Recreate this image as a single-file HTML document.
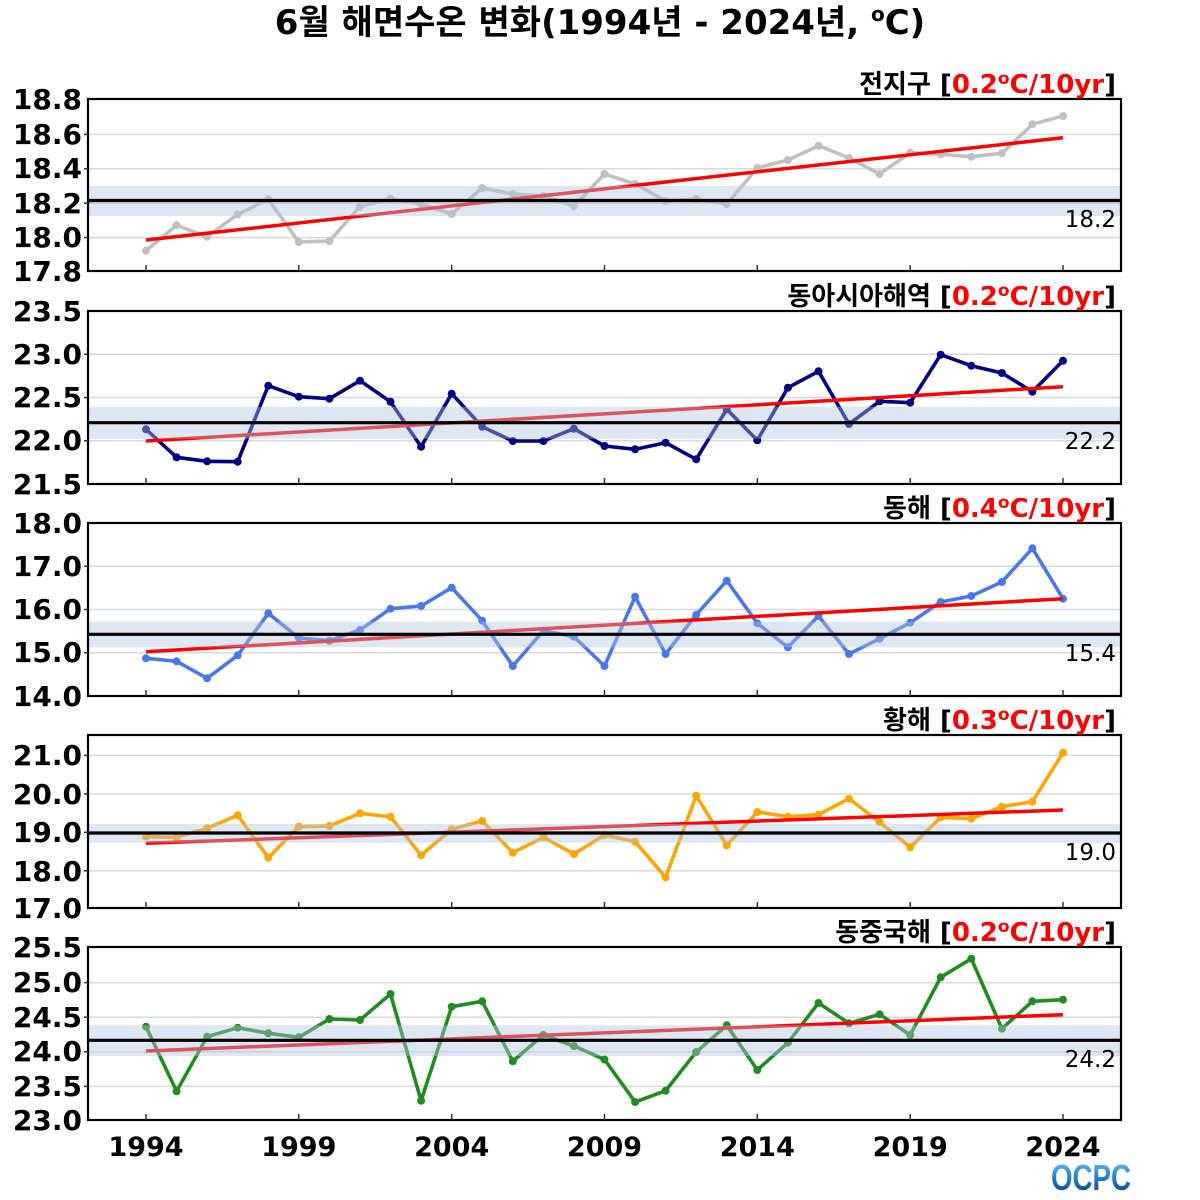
<!DOCTYPE html>
<html>
<head>
<meta charset="utf-8">
<style>
  html, body { margin:0; padding:0; background:#fff; }
  svg { display:block; }
  .yl { font-family:"DejaVu Sans","Liberation Sans",sans-serif; font-weight:bold; font-size:28px; fill:#000; }
  .xl { font-family:"DejaVu Sans","Liberation Sans",sans-serif; font-weight:bold; font-size:27px; fill:#000; }
  .pt { font-family:"DejaVu Sans","Liberation Sans","Noto Sans CJK KR",sans-serif; font-weight:bold; font-size:26px; fill:#000; }
  .ml { font-family:"DejaVu Sans","Liberation Sans",sans-serif; font-size:23px; fill:#000; }
  .ti { font-family:"DejaVu Sans","Liberation Sans","Noto Sans CJK KR",sans-serif; font-weight:bold; font-size:34px; fill:#000; }
  .grid { stroke:#d9d9d9; stroke-width:1.5; }
  .band { fill:rgba(176,196,222,0.42); }
  .mean { stroke:#000; stroke-width:3.2; }
  .trend { stroke:#ff0000; stroke-width:3.5; fill:none; }
  .frame { fill:none; stroke:#000; stroke-width:2.2; }
  .tk { stroke:#333; stroke-width:1.5; }
  .ser { fill:none; stroke-width:3.6; stroke-linejoin:round; }
</style>
</head>
<body>
<svg width="1200" height="1200" viewBox="0 0 1200 1200" xmlns="http://www.w3.org/2000/svg">
  <defs>
    <marker id="m1" viewBox="-5 -5 10 10" markerWidth="10" markerHeight="10" refX="0" refY="0" markerUnits="userSpaceOnUse"><circle r="4" fill="#c0c0c0"/></marker>
    <marker id="m2" viewBox="-5 -5 10 10" markerWidth="10" markerHeight="10" refX="0" refY="0" markerUnits="userSpaceOnUse"><circle r="4" fill="#000080"/></marker>
    <marker id="m3" viewBox="-5 -5 10 10" markerWidth="10" markerHeight="10" refX="0" refY="0" markerUnits="userSpaceOnUse"><circle r="4" fill="#4a78ea"/></marker>
    <marker id="m4" viewBox="-5 -5 10 10" markerWidth="10" markerHeight="10" refX="0" refY="0" markerUnits="userSpaceOnUse"><circle r="4" fill="#ffa500"/></marker>
    <marker id="m5" viewBox="-5 -5 10 10" markerWidth="10" markerHeight="10" refX="0" refY="0" markerUnits="userSpaceOnUse"><circle r="4" fill="#228b22"/></marker>
    <linearGradient id="lg" x1="0" y1="0" x2="0" y2="1">
      <stop offset="0" stop-color="#7fcdf2"/>
      <stop offset="0.45" stop-color="#2a86d0"/>
      <stop offset="1" stop-color="#08357f"/>
    </linearGradient>
  </defs>

  <rect x="0" y="0" width="1200" height="1200" fill="#fff"/>

  <!-- Title -->
  <text class="ti" x="600" y="34" text-anchor="middle">6월 해면수온 변화(1994년 - 2024년, <tspan font-size="20" dy="-13">o</tspan><tspan dy="13">C)</tspan></text>

  <!-- ================= Panel 1 ================= -->
  <g>
    <line class="grid" x1="88" x2="1121" y1="134.4" y2="134.4"/>
    <line class="grid" x1="88" x2="1121" y1="168.8" y2="168.8"/>
    <line class="grid" x1="88" x2="1121" y1="203.2" y2="203.2"/>
    <line class="grid" x1="88" x2="1121" y1="237.6" y2="237.6"/>
    <polyline class="ser" stroke="#c0c0c0" marker-start="url(#m1)" marker-mid="url(#m1)" marker-end="url(#m1)"
      points="146,250.7 176.6,225.3 207.1,236.7 237.7,214.3 268.3,199.3 298.8,242 329.4,241 360,206.7 390.5,198.7 421.1,204 451.7,214 482.2,188 512.8,194 543.4,196 573.9,206 604.5,174 635.1,184 665.6,201 696.2,199 726.8,204 757.3,168 787.9,160 818.5,145.7 849,158 879.6,174 910.2,152.7 940.7,154.3 971.3,156.7 1001.9,153.3 1032.4,124.3 1063,116"/>
    <line class="trend" x1="146" y1="240" x2="1063" y2="137.7"/>
    <rect class="band" x="89" y="186" width="1031" height="30"/>
    <line class="mean" x1="88" x2="1121" y1="200.5" y2="200.5"/>
    <rect class="frame" x="88" y="99" width="1033" height="172"/>
    <g class="tk">
      <line x1="146" x2="146" y1="265" y2="271"/><line x1="298.8" x2="298.8" y1="265" y2="271"/>
      <line x1="451.7" x2="451.7" y1="265" y2="271"/><line x1="604.5" x2="604.5" y1="265" y2="271"/>
      <line x1="757.3" x2="757.3" y1="265" y2="271"/><line x1="910.2" x2="910.2" y1="265" y2="271"/>
      <line x1="1063" x2="1063" y1="265" y2="271"/>
      <line x1="84" x2="88" y1="134.4" y2="134.4"/><line x1="84" x2="88" y1="168.8" y2="168.8"/>
      <line x1="84" x2="88" y1="203.2" y2="203.2"/><line x1="84" x2="88" y1="237.6" y2="237.6"/>
    </g>
    <text class="yl" x="82" y="109" text-anchor="end">18.8</text>
    <text class="yl" x="82" y="144" text-anchor="end">18.6</text>
    <text class="yl" x="82" y="178" text-anchor="end">18.4</text>
    <text class="yl" x="82" y="213" text-anchor="end">18.2</text>
    <text class="yl" x="82" y="247" text-anchor="end">18.0</text>
    <text class="yl" x="82" y="281" text-anchor="end">17.8</text>
    <text class="pt" x="1116" y="93" text-anchor="end">전지구 [<tspan fill="#ff0000">0.2<tspan font-size="17" dy="-9">o</tspan><tspan dy="9">C/10yr</tspan></tspan>]</text>
    <text class="ml" x="1116" y="227" text-anchor="end">18.2</text>
  </g>

  <!-- ================= Panel 2 ================= -->
  <g>
    <line class="grid" x1="88" x2="1121" y1="354.25" y2="354.25"/>
    <line class="grid" x1="88" x2="1121" y1="397.5" y2="397.5"/>
    <line class="grid" x1="88" x2="1121" y1="440.75" y2="440.75"/>
    <polyline class="ser" stroke="#000080" marker-start="url(#m2)" marker-mid="url(#m2)" marker-end="url(#m2)"
      points="146,429.3 176.6,457.3 207.1,461.3 237.7,461.7 268.3,385.7 298.8,396.7 329.4,398.7 360,380.7 390.5,401.7 421.1,446.7 451.7,393.7 482.2,426.7 512.8,441 543.4,441 573.9,428.7 604.5,446 635.1,449.3 665.6,442.7 696.2,459.3 726.8,409.3 757.3,440.3 787.9,387.7 818.5,371.3 849,424 879.6,401.3 910.2,402.7 940.7,354.7 971.3,365.7 1001.9,373 1032.4,391.7 1063,360.7"/>
    <line class="trend" x1="146" y1="441" x2="1063" y2="386.7"/>
    <rect class="band" x="89" y="406.7" width="1031" height="32"/>
    <line class="mean" x1="88" x2="1121" y1="422.7" y2="422.7"/>
    <rect class="frame" x="88" y="311" width="1033" height="173"/>
    <g class="tk">
      <line x1="146" x2="146" y1="478" y2="484"/><line x1="298.8" x2="298.8" y1="478" y2="484"/>
      <line x1="451.7" x2="451.7" y1="478" y2="484"/><line x1="604.5" x2="604.5" y1="478" y2="484"/>
      <line x1="757.3" x2="757.3" y1="478" y2="484"/><line x1="910.2" x2="910.2" y1="478" y2="484"/>
      <line x1="1063" x2="1063" y1="478" y2="484"/>
      <line x1="84" x2="88" y1="354.25" y2="354.25"/><line x1="84" x2="88" y1="397.5" y2="397.5"/>
      <line x1="84" x2="88" y1="440.75" y2="440.75"/>
    </g>
    <text class="yl" x="82" y="321" text-anchor="end">23.5</text>
    <text class="yl" x="82" y="364" text-anchor="end">23.0</text>
    <text class="yl" x="82" y="407" text-anchor="end">22.5</text>
    <text class="yl" x="82" y="450" text-anchor="end">22.0</text>
    <text class="yl" x="82" y="494" text-anchor="end">21.5</text>
    <text class="pt" x="1116" y="305" text-anchor="end">동아시아해역 [<tspan fill="#ff0000">0.2<tspan font-size="17" dy="-9">o</tspan><tspan dy="9">C/10yr</tspan></tspan>]</text>
    <text class="ml" x="1116" y="449" text-anchor="end">22.2</text>
  </g>

  <!-- ================= Panel 3 ================= -->
  <g>
    <line class="grid" x1="88" x2="1121" y1="566.25" y2="566.25"/>
    <line class="grid" x1="88" x2="1121" y1="609.5" y2="609.5"/>
    <line class="grid" x1="88" x2="1121" y1="652.75" y2="652.75"/>
    <polyline class="ser" stroke="#4a78ea" marker-start="url(#m3)" marker-mid="url(#m3)" marker-end="url(#m3)"
      points="146,658.3 176.6,661.3 207.1,678.3 237.7,655.3 268.3,613.3 298.8,638 329.4,640.7 360,630 390.5,608.7 421.1,606 451.7,587.7 482.2,620.7 512.8,666 543.4,630.7 573.9,636.7 604.5,666 635.1,596.7 665.6,654 696.2,614.7 726.8,580.7 757.3,623.3 787.9,647.3 818.5,616 849,654 879.6,638.7 910.2,622.7 940.7,602 971.3,596 1001.9,582 1032.4,548.3 1063,598.7"/>
    <line class="trend" x1="146" y1="651.7" x2="1063" y2="598.7"/>
    <rect class="band" x="89" y="621.7" width="1031" height="25.6"/>
    <line class="mean" x1="88" x2="1121" y1="634.3" y2="634.3"/>
    <rect class="frame" x="88" y="523" width="1033" height="173"/>
    <g class="tk">
      <line x1="146" x2="146" y1="690" y2="696"/><line x1="298.8" x2="298.8" y1="690" y2="696"/>
      <line x1="451.7" x2="451.7" y1="690" y2="696"/><line x1="604.5" x2="604.5" y1="690" y2="696"/>
      <line x1="757.3" x2="757.3" y1="690" y2="696"/><line x1="910.2" x2="910.2" y1="690" y2="696"/>
      <line x1="1063" x2="1063" y1="690" y2="696"/>
      <line x1="84" x2="88" y1="566.25" y2="566.25"/><line x1="84" x2="88" y1="609.5" y2="609.5"/>
      <line x1="84" x2="88" y1="652.75" y2="652.75"/>
    </g>
    <text class="yl" x="82" y="533" text-anchor="end">18.0</text>
    <text class="yl" x="82" y="576" text-anchor="end">17.0</text>
    <text class="yl" x="82" y="619" text-anchor="end">16.0</text>
    <text class="yl" x="82" y="662" text-anchor="end">15.0</text>
    <text class="yl" x="82" y="706" text-anchor="end">14.0</text>
    <text class="pt" x="1116" y="517" text-anchor="end">동해 [<tspan fill="#ff0000">0.4<tspan font-size="17" dy="-9">o</tspan><tspan dy="9">C/10yr</tspan></tspan>]</text>
    <text class="ml" x="1116" y="661" text-anchor="end">15.4</text>
  </g>

  <!-- ================= Panel 4 ================= -->
  <g>
    <line class="grid" x1="88" x2="1121" y1="755.4" y2="755.4"/>
    <line class="grid" x1="88" x2="1121" y1="793.9" y2="793.9"/>
    <line class="grid" x1="88" x2="1121" y1="832.3" y2="832.3"/>
    <line class="grid" x1="88" x2="1121" y1="870.8" y2="870.8"/>
    <polyline class="ser" stroke="#ffa500" marker-start="url(#m4)" marker-mid="url(#m4)" marker-end="url(#m4)"
      points="146,836.7 176.6,837.3 207.1,828.3 237.7,815.3 268.3,857.7 298.8,826.7 329.4,826 360,813.3 390.5,816.7 421.1,855.3 451.7,829.3 482.2,821 512.8,852.7 543.4,837.3 573.9,854 604.5,835 635.1,841.7 665.6,877.3 696.2,795.7 726.8,845.3 757.3,812 787.9,816.7 818.5,814.7 849,798.7 879.6,822 910.2,847.3 940.7,817.3 971.3,818.7 1001.9,806.7 1032.4,801.7 1063,752.7"/>
    <line class="trend" x1="146" y1="843.3" x2="1063" y2="810"/>
    <rect class="band" x="89" y="824" width="1031" height="18.7"/>
    <line class="mean" x1="88" x2="1121" y1="833" y2="833"/>
    <rect class="frame" x="88" y="735" width="1033" height="173"/>
    <g class="tk">
      <line x1="146" x2="146" y1="902" y2="908"/><line x1="298.8" x2="298.8" y1="902" y2="908"/>
      <line x1="451.7" x2="451.7" y1="902" y2="908"/><line x1="604.5" x2="604.5" y1="902" y2="908"/>
      <line x1="757.3" x2="757.3" y1="902" y2="908"/><line x1="910.2" x2="910.2" y1="902" y2="908"/>
      <line x1="1063" x2="1063" y1="902" y2="908"/>
      <line x1="84" x2="88" y1="755.4" y2="755.4"/><line x1="84" x2="88" y1="793.9" y2="793.9"/>
      <line x1="84" x2="88" y1="832.3" y2="832.3"/><line x1="84" x2="88" y1="870.8" y2="870.8"/>
    </g>
    <text class="yl" x="82" y="765" text-anchor="end">21.0</text>
    <text class="yl" x="82" y="804" text-anchor="end">20.0</text>
    <text class="yl" x="82" y="842" text-anchor="end">19.0</text>
    <text class="yl" x="82" y="881" text-anchor="end">18.0</text>
    <text class="yl" x="82" y="918" text-anchor="end">17.0</text>
    <text class="pt" x="1116" y="729" text-anchor="end">황해 [<tspan fill="#ff0000">0.3<tspan font-size="17" dy="-9">o</tspan><tspan dy="9">C/10yr</tspan></tspan>]</text>
    <text class="ml" x="1116" y="860" text-anchor="end">19.0</text>
  </g>

  <!-- ================= Panel 5 ================= -->
  <g>
    <line class="grid" x1="88" x2="1121" y1="982.6" y2="982.6"/>
    <line class="grid" x1="88" x2="1121" y1="1017.2" y2="1017.2"/>
    <line class="grid" x1="88" x2="1121" y1="1051.8" y2="1051.8"/>
    <line class="grid" x1="88" x2="1121" y1="1086.4" y2="1086.4"/>
    <polyline class="ser" stroke="#228b22" marker-start="url(#m5)" marker-mid="url(#m5)" marker-end="url(#m5)"
      points="146,1026.7 176.6,1091.3 207.1,1036.7 237.7,1027.7 268.3,1033.3 298.8,1037.3 329.4,1019 360,1020 390.5,994 421.1,1100.7 451.7,1006.7 482.2,1001.3 512.8,1061.3 543.4,1035 573.9,1046 604.5,1059.5 635.1,1102 665.6,1090.7 696.2,1052 726.8,1025.3 757.3,1070 787.9,1042.7 818.5,1003 849,1023.3 879.6,1014.3 910.2,1035 940.7,977.3 971.3,958.7 1001.9,1028.7 1032.4,1001.3 1063,999.7"/>
    <line class="trend" x1="146" y1="1051" x2="1063" y2="1014.7"/>
    <rect class="band" x="89" y="1025.3" width="1031" height="30.7"/>
    <line class="mean" x1="88" x2="1121" y1="1040.3" y2="1040.3"/>
    <rect class="frame" x="88" y="947" width="1033" height="173"/>
    <g class="tk">
      <line x1="146" x2="146" y1="1114" y2="1120"/><line x1="298.8" x2="298.8" y1="1114" y2="1120"/>
      <line x1="451.7" x2="451.7" y1="1114" y2="1120"/><line x1="604.5" x2="604.5" y1="1114" y2="1120"/>
      <line x1="757.3" x2="757.3" y1="1114" y2="1120"/><line x1="910.2" x2="910.2" y1="1114" y2="1120"/>
      <line x1="1063" x2="1063" y1="1114" y2="1120"/>
      <line x1="84" x2="88" y1="982.6" y2="982.6"/><line x1="84" x2="88" y1="1017.2" y2="1017.2"/>
      <line x1="84" x2="88" y1="1051.8" y2="1051.8"/><line x1="84" x2="88" y1="1086.4" y2="1086.4"/>
    </g>
    <text class="yl" x="82" y="957" text-anchor="end">25.5</text>
    <text class="yl" x="82" y="992" text-anchor="end">25.0</text>
    <text class="yl" x="82" y="1027" text-anchor="end">24.5</text>
    <text class="yl" x="82" y="1061" text-anchor="end">24.0</text>
    <text class="yl" x="82" y="1096" text-anchor="end">23.5</text>
    <text class="yl" x="82" y="1130" text-anchor="end">23.0</text>
    <text class="pt" x="1116" y="941" text-anchor="end">동중국해 [<tspan fill="#ff0000">0.2<tspan font-size="17" dy="-9">o</tspan><tspan dy="9">C/10yr</tspan></tspan>]</text>
    <text class="ml" x="1116" y="1067" text-anchor="end">24.2</text>
  </g>

  <!-- X axis labels -->
  <text class="xl" x="146" y="1156" text-anchor="middle">1994</text>
  <text class="xl" x="298.8" y="1156" text-anchor="middle">1999</text>
  <text class="xl" x="451.7" y="1156" text-anchor="middle">2004</text>
  <text class="xl" x="604.5" y="1156" text-anchor="middle">2009</text>
  <text class="xl" x="757.3" y="1156" text-anchor="middle">2014</text>
  <text class="xl" x="910.2" y="1156" text-anchor="middle">2019</text>
  <text class="xl" x="1063" y="1156" text-anchor="middle">2024</text>

  <!-- Logo -->
  <text x="1051" y="1190" font-family="'Liberation Sans Narrow','Liberation Sans',sans-serif" font-weight="bold" font-size="36" fill="url(#lg)" textLength="80" lengthAdjust="spacingAndGlyphs">OCPC</text>
</svg>
</body>
</html>
